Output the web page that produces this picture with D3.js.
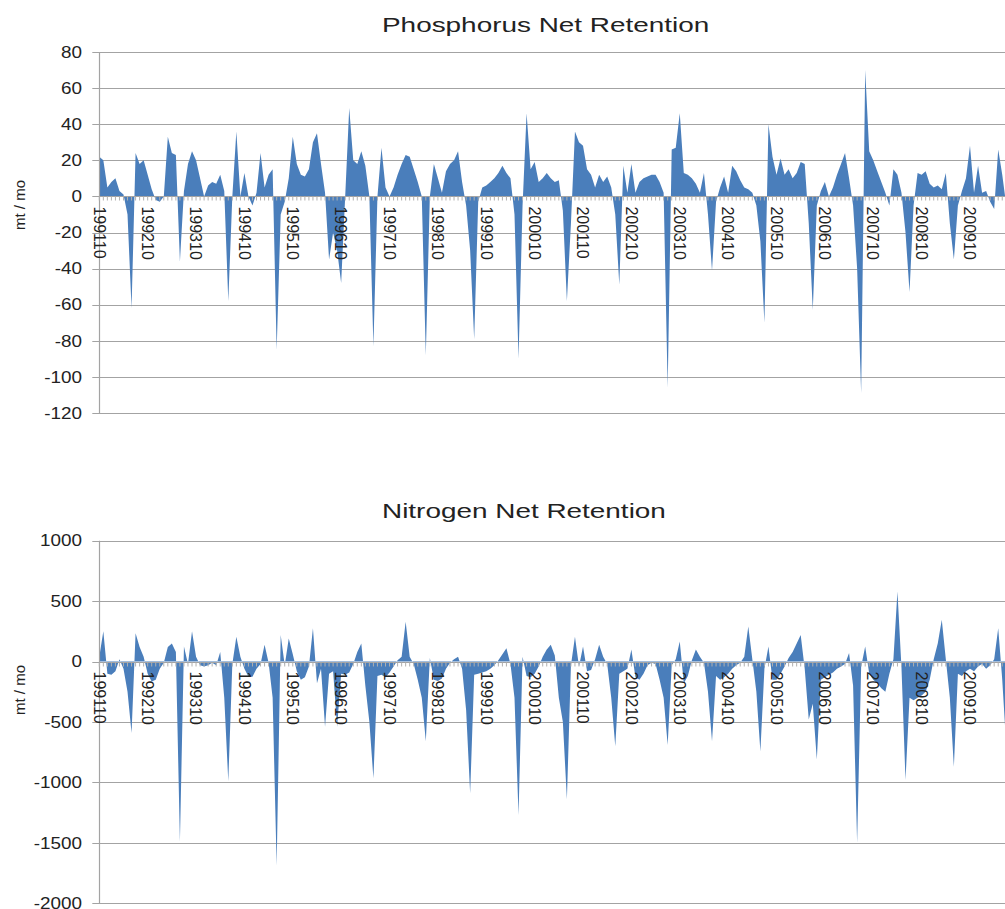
<!DOCTYPE html>
<html>
<head>
<meta charset="utf-8">
<script src="https://cdn.jsdelivr.net/npm/d3@7"></script>
<style>
  html, body { margin: 0; padding: 0; background: #fff; }
  svg { display: block; font-family: "Liberation Sans", Arial, sans-serif; }
</style>
</head>
<body>
<svg id="chart" width="1005" height="909"></svg>
<script>
// Monthly net retention, water years 1992-2010 (Oct 1991 .. Sep 2010), mt / mo
const phosphorus = [
  22, 20, 5, 8, 10, 3, 1, -10, -62, 24, 18, 20,
  12, 4, -2, -3, 0, 33, 24, 23, -36, 3, 18, 25,
  20, 10, 0, 6, 8, 7, 12, 3, -58, 0, 36, 0,
  13, 0, -5, 2, 24, 5, 12, 15, -85, -10, -3, 10,
  33, 18, 12, 11, 15, 30, 35, 18, 2, -35, -20, -30,
  -48, 0, 49, 20, 18, 25, 17, 0, -83, 0, 27, 5,
  0, 5, 12, 18, 23, 22, 15, 8, 0, -88, 0, 18,
  10, 2, 14, 18, 20, 25, 8, -5, -30, -79, -3, 5,
  6, 8, 10, 13, 17, 13, 10, -10, -90, -5, 46, 15,
  19, 8, 10, 13, 10, 8, 9, -8, -58, -15, 36, 30,
  28, 15, 12, 5, 12, 8, 11, 5, -10, -49, 17, 2,
  18, 2, 8, 10, 11, 12, 12, 8, 2, -106, 26, 27,
  46, 13, 12, 10, 7, 2, 13, -10, -41, -3, 5, 11,
  2, 17, 14, 9, 5, 4, 2, -5, -25, -70, 40, 22,
  12, 21, 12, 15, 10, 13, 19, 18, -15, -63, -5, 3,
  8, 0, 5, 12, 18, 24, 10, -5, -40, -109, 70, 25,
  20, 14, 8, 2, -5, 15, 12, 2, -20, -53, -5, 13,
  12, 14, 7, 5, 6, 4, 13, -15, -35, -5, 3, 10,
  28, 2, 17, 2, 3, -3, -7, 26, 12, -5, -10, 28
];

const nitrogen = [
  40, 250, -100, -110, -80, 20, -60, -250, -590, 235, 120, 40,
  -100, -165, -150, -60, -10, 120, 150, 80, -1490, 125, -20, 250,
  40, -30, -40, -30, -10, -30, 80, -300, -990, -20, 205, 40,
  -60, -125, -125, -60, -20, 140, -10, -300, -1690, 220, -30, 190,
  60, -80, -150, -130, -40, 275, -180, -60, -540, -100, -80, -540,
  -100, -110, -90, -20, 80, 150, -200, -500, -965, -120, -110, -130,
  -90, -40, 10, 40, 330, 40, -20, -150, -300, -660, 30, -150,
  -160, -140, -60, -10, 20, 40, -60, -400, -1090, -110, -100, -90,
  -80, -60, -30, 10, 60, 110, -20, -300, -1270, 40, -120, -130,
  -100, -40, 40, 100, 140, 50, -300, -500, -1140, -30, 205, -40,
  125, -80, -70, 20, 140, 40, -20, -300, -700, -100, -80, -60,
  100, -130, -150, -100, -30, -10, -20, -150, -300, -690, -30, 20,
  165, -180, -120, 10, 100, 40, -10, -250, -660, -120, -150, -130,
  -100, -60, -30, -10, 40, 290, 20, -250, -745, -60, 125, -150,
  -150, -100, -40, 30, 80, 150, 220, -60, -480, -350, -810, -150,
  -130, -110, -90, -60, -40, -20, 70, -200, -1500, -40, 125, -100,
  -150, -180, -220, -250, -100, 20, 580, -50, -980, -300, -320, -300,
  -280, -250, -150, 20, 150, 345, 20, -300, -870, -100, -120, -80,
  -60, -80, -40, -20, -60, -30, 20, 275, -150, -700, -200, 50
];

// Category labels shown on the axis (start of each water year)
const xTickLabels = [
  "199110", "199210", "199310", "199410", "199510", "199610", "199710",
  "199810", "199910", "200010", "200110", "200210", "200310", "200410",
  "200510", "200610", "200710", "200810", "200910"
];

const phosphorusTicks = [80, 60, 40, 20, 0, -20, -40, -60, -80, -100, -120];
const nitrogenTicks = [1000, 500, 0, -500, -1000, -1500, -2000];

// Month categories as YYYYMM, starting October 1991
const months = d3.range(phosphorus.length).map(i => {
  const k = 9 + i;
  return `${1991 + Math.floor(k / 12)}${String((k % 12) + 1).padStart(2, "0")}`;
});

const svg = d3.select("#chart");
const fill = "#4a7ebb";
const gridColor = "#a3a3a3";
const textColor = "#222";

const x = d3.scalePoint()
  .domain(months)
  .range([99.3, 99.3 + 4.031 * (months.length - 1)]);

const plotLeft = 99.3;
const plotRight = x(months[months.length - 1]);

function drawPanel(cfg) {
  const g = svg.append("g");
  const y = d3.scaleLinear().domain(cfg.domain).range(cfg.range);

  // title
  g.append("text")
    .attr("transform", `translate(382,${cfg.titleY}) scale(1.33,1)`)
    .attr("font-size", 21)
    .attr("fill", textColor)
    .text(cfg.title);

  // horizontal gridlines with short outward ticks
  g.append("g").selectAll("line")
    .data(cfg.ticks)
    .join("line")
    .attr("x1", plotLeft - 7)
    .attr("x2", plotRight)
    .attr("y1", d => Math.round(y(d)) + 0.5)
    .attr("y2", d => Math.round(y(d)) + 0.5)
    .attr("stroke", gridColor)
    .attr("stroke-width", 1.2);

  // y tick labels
  g.append("g").selectAll("text")
    .data(cfg.ticks)
    .join("text")
    .attr("transform", d => `translate(82,${y(d)}) scale(1.18,1)`)
    .attr("text-anchor", "end")
    .attr("dy", "0.36em")
    .attr("font-size", 16)
    .attr("fill", textColor)
    .text(d => d);

  // y axis title
  g.append("text")
    .attr("transform", `translate(20,${cfg.yTitleY}) rotate(-90)`)
    .attr("text-anchor", "middle")
    .attr("dy", "0.35em")
    .attr("font-size", 15)
    .attr("fill", textColor)
    .text("mt / mo");

  // area
  const area = d3.area()
    .x((d, i) => x(months[i]))
    .y0(y(0))
    .y1(d => y(d));
  g.append("path")
    .datum(cfg.values)
    .attr("d", area)
    .attr("fill", fill);

  // vertical axis line
  g.append("line")
    .attr("x1", Math.round(plotLeft) + 0.5)
    .attr("x2", Math.round(plotLeft) + 0.5)
    .attr("y1", y(cfg.domain[1]))
    .attr("y2", y(cfg.domain[0]))
    .attr("stroke", gridColor)
    .attr("stroke-width", 1.2);

  // category axis along zero, with a small tick at every month
  const y0 = Math.round(y(0)) + 0.5;
  g.append("line")
    .attr("x1", plotLeft).attr("x2", plotRight)
    .attr("y1", y0).attr("y2", y0)
    .attr("stroke", gridColor)
    .attr("stroke-width", 1.2);
  g.append("g").selectAll("line")
    .data(months)
    .join("line")
    .attr("x1", d => x(d)).attr("x2", d => x(d))
    .attr("y1", y0).attr("y2", y0 + 4)
    .attr("stroke", "#b0b0b0")
    .attr("stroke-width", 1);

  // rotated category labels
  g.append("g").selectAll("text")
    .data(xTickLabels)
    .join("text")
    .attr("transform", d => `translate(${x(d)},${y(0) + 10}) rotate(90)`)
    .attr("dy", "0.36em")
    .attr("font-size", 16)
    .attr("fill", textColor)
    .text(d => d);
}

drawPanel({
  title: "Phosphorus Net Retention",
  titleY: 32,
  values: phosphorus,
  domain: [-120, 80],
  range: [413, 52],
  ticks: phosphorusTicks,
  yTitleY: 205
});

drawPanel({
  title: "Nitrogen Net Retention",
  titleY: 518,
  values: nitrogen,
  domain: [-2000, 1000],
  range: [903.3, 540.7],
  ticks: nitrogenTicks,
  yTitleY: 690
});
</script>
</body>
</html>
